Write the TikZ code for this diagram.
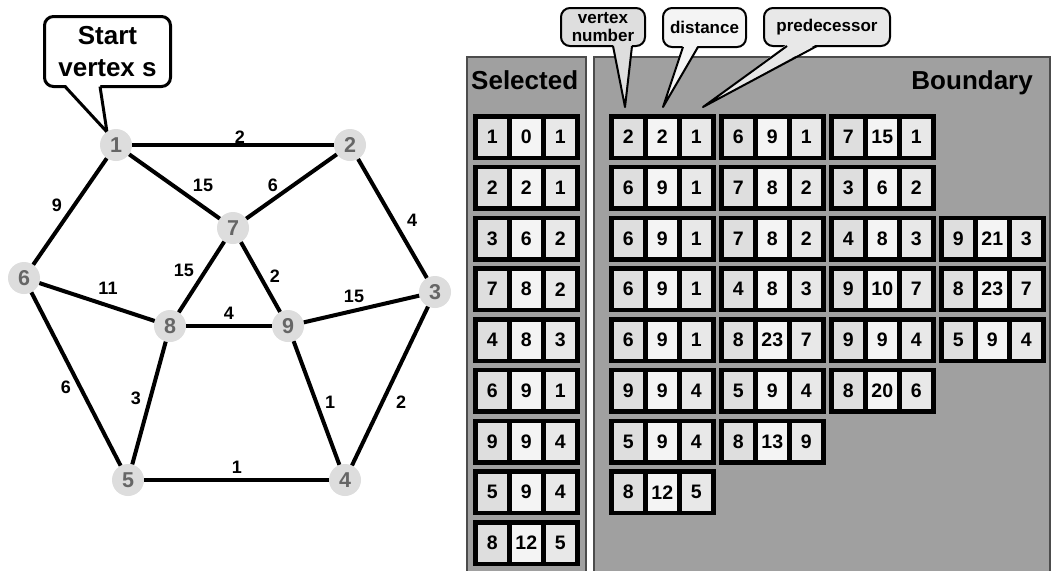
\documentclass[tikz,border=0pt]{standalone}
\usepackage{fontspec}
\setmainfont{Liberation Sans}

\definecolor{panelgray}{HTML}{A0A0A0}
\definecolor{vertexfill}{HTML}{DDDDDD}
\definecolor{vertextext}{HTML}{666666}
\definecolor{cellone}{HTML}{DEDEDE}
\definecolor{celltwo}{HTML}{F4F4F4}
\definecolor{cellthree}{HTML}{E8E8E8}

\tikzset{
  vertex/.style={circle, fill=vertexfill, text=vertextext, minimum size=32, inner sep=0pt,
    font=\bfseries\fontsize{21.5}{21.5}\selectfont},
  weight/.style={inner sep=0pt, font=\bfseries\fontsize{18}{18}\selectfont},
  cell/.style={draw=black, line width=4.5pt, minimum width=34, minimum height=41.5, inner sep=0pt,
    font=\bfseries\fontsize{19.5}{19.5}\selectfont},
  panel/.style={fill=panelgray, draw=black!70, line width=1.2pt},
  bubble/.style={draw=black, line width=2pt, rounded corners=9pt, inner sep=0pt, align=center,
    font=\bfseries\fontsize{17}{18}\selectfont},
  title/.style={inner sep=0pt, font=\bfseries\fontsize{26}{26}\selectfont},
}

% one entry: vertex number, distance, predecessor
\newcommand{\vrecord}[6]{%
  \node[cell, fill=cellone] (#1a) at ({#2+19.25},{#3}) {#4};
  \node[cell, fill=celltwo] (#1b) at ({#2+53.25},{#3}) {#5};
  \node[cell, fill=cellthree] (#1c) at ({#2+87.25},{#3}) {#6};
}

\begin{document}
\begin{tikzpicture}[x=1pt, y=-1pt]
  \useasboundingbox (0,0) rectangle (1051,570);

  % panels
  \draw[panel] (467,57) rectangle (586,580);
  \draw[panel] (594,57) rectangle (1050,580);
  \node[title, anchor=base west] (seltitle) at (471,89) {Selected};
  \node[title, anchor=base east] (boundtitle) at (1033,89) {Boundary};

  \foreach \a/\b/\c [count=\i] in {1/0/1, 2/2/1, 3/6/2, 7/8/2, 4/8/3, 6/9/1, 9/9/4, 5/9/4, 8/12/5} {
    \vrecord{s\i}{473}{137+50.75*(\i-1)}{\a}{\b}{\c}
  }

  \foreach \row [count=\ri] in {{2/2/1, 6/9/1, 7/15/1}, {6/9/1, 7/8/2, 3/6/2},
      {6/9/1, 7/8/2, 4/8/3, 9/21/3}, {6/9/1, 4/8/3, 9/10/7, 8/23/7},
      {6/9/1, 8/23/7, 9/9/4, 5/9/4}, {9/9/4, 5/9/4, 8/20/6}, {5/9/4, 8/13/9}, {8/12/5}} {
    \foreach \a/\b/\c [count=\ci] in \row {
      \vrecord{b\ri\ci}{609+110*(\ci-1)}{137+50.75*(\ri-1)}{\a}{\b}{\c}
    }
  }

  % callouts
  \node[bubble, fill=cellone, minimum width=84, minimum height=38] (vnum) at (603,27) {vertex\\number};
  \coordinate (vnumtip) at (625,107);
  \fill[cellone] (613,44) -- (vnumtip) -- (632,44) -- cycle;
  \draw[line width=2pt, line join=round] (613,46) -- (vnumtip) -- (632,46);

  \node[bubble, fill=celltwo, minimum width=83, minimum height=39] (dist) at (704.5,27.5) {distance};
  \coordinate (disttip) at (663,107);
  \fill[celltwo] (683,45) -- (disttip) -- (698,45) -- cycle;
  \draw[line width=2pt, line join=round] (683,47) -- (disttip) -- (698,47);

  \node[bubble, fill=cellthree, minimum width=126, minimum height=38] (pred) at (827,27) {predecessor};
  \coordinate (predtip) at (703,107);
  \fill[cellthree] (787,44) -- (predtip) -- (817,44) -- cycle;
  \draw[line width=2pt, line join=round] (787,46) -- (predtip) -- (817,46);

  \node[bubble, fill=white, line width=3pt, minimum width=126, minimum height=70,
    font=\bfseries\fontsize{26}{32}\selectfont] (start) at (107.5,51.5) {Start\\vertex s};
  \coordinate (starttip) at (107,132);
  \fill[white] (65,84) -- (starttip) -- (100,84) -- cycle;
  \draw[line width=3pt, line join=round] (65,86.5) -- (starttip) -- (100,86.5);

  % graph
  \node[vertex] (v1) at (116,145) {1};
  \node[vertex] (v2) at (350,145) {2};
  \node[vertex] (v3) at (435,292) {3};
  \node[vertex] (v4) at (345,480) {4};
  \node[vertex] (v5) at (128,480) {5};
  \node[vertex] (v6) at (24,278) {6};
  \node[vertex] (v7) at (233,228) {7};
  \node[vertex] (v8) at (170,326) {8};
  \node[vertex] (v9) at (288,326) {9};

  \foreach \a/\b/\w/\lx/\ly in {1/2/2/240/137, 1/7/15/203/185, 2/7/6/273/185, 1/6/9/57/205,
      2/3/4/412/220, 7/8/15/184/270, 7/9/2/275/276, 6/8/11/108/288, 8/9/4/229/313,
      9/3/15/354/296, 6/5/6/66/387, 8/5/3/136/398, 9/4/1/330/402, 3/4/2/401/402, 5/4/1/237/467} {
    \draw[line width=4pt] (v\a) -- (v\b);
    \node[weight] (w\a\b) at (\lx,\ly) {\w};
  }
\end{tikzpicture}
\end{document}
